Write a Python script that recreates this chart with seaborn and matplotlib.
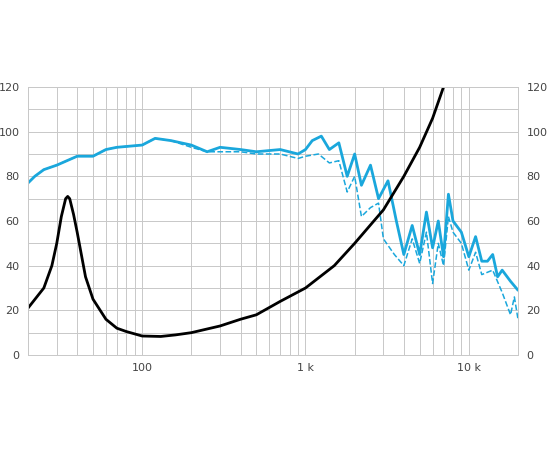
import matplotlib
matplotlib.use("Agg")
import matplotlib.pyplot as plt
import seaborn as sns
import pandas as pd
from matplotlib.ticker import FixedLocator, LogLocator, NullFormatter

imp_f = [20, 25, 28, 30, 32, 34, 35, 36, 38, 40, 45, 50, 60, 70, 80, 100, 130, 160, 200, 300, 400, 500, 700, 1000, 1500, 2000, 3000, 4000, 5000, 6000, 7000]
imp_v = [21, 30, 40, 50, 62, 70, 71, 70, 63, 55, 35, 25, 16, 12, 10.5, 8.5, 8.3, 9, 10, 13, 16, 18, 24, 30, 40, 50, 65, 80, 93, 106, 120]

spl_f = [20, 22, 25, 30, 40, 50, 60, 70, 100, 120, 150, 200, 250, 300, 400, 500, 700, 900, 1000, 1100, 1250, 1400, 1600, 1800, 2000, 2200, 2500, 2800, 3200, 3600, 4000, 4500, 5000, 5500, 6000, 6500, 7000, 7500, 8000, 9000, 10000, 11000, 12000, 13000, 14000, 15000, 16000, 18000, 20000]
spl_v = [77, 80, 83, 85, 89, 89, 92, 93, 94, 97, 96, 94, 91, 93, 92, 91, 92, 90, 92, 96, 98, 92, 95, 80, 90, 76, 85, 70, 78, 60, 45, 58, 45, 64, 48, 60, 44, 72, 60, 55, 44, 53, 42, 42, 45, 35, 38, 33, 29]

off_f = [20, 22, 25, 30, 40, 50, 60, 70, 100, 120, 150, 200, 250, 300, 400, 500, 700, 900, 1000, 1200, 1400, 1600, 1800, 2000, 2200, 2500, 2800, 3000, 3500, 4000, 4500, 5000, 5500, 6000, 6500, 7000, 7500, 8000, 9000, 10000, 11000, 12000, 14000, 16000, 18000, 19000, 20000]
off_v = [77, 80, 83, 85, 89, 89, 92, 93, 94, 97, 96, 93, 91, 91, 91, 90, 90, 88, 89, 90, 86, 87, 73, 80, 62, 66, 68, 52, 45, 40, 52, 41, 55, 32, 50, 40, 62, 55, 50, 38, 46, 36, 38, 28, 18, 26, 16]

sns.set_style("white")
fig = plt.figure(figsize=(5.5, 4.5), dpi=100)
ax = fig.add_axes([28/550, 95/450, 490/550, 268/450])
blue = "#1aa7dc"
sns.lineplot(x=off_f, y=off_v, ax=ax, color=blue, lw=1.1, ls="--")
sns.lineplot(x=spl_f, y=spl_v, ax=ax, color=blue, lw=2)
sns.lineplot(x=imp_f, y=imp_v, ax=ax, color="black", lw=2)
ax.set_xscale("log")
ax.set_xlim(20, 20000)
ax.set_ylim(0, 120)
ax.xaxis.set_major_locator(FixedLocator([100, 1000, 10000]))
ax.set_xticklabels(["100", "1 k", "10 k"])
ax.xaxis.set_minor_locator(LogLocator(base=10, subs=range(2, 10)))
ax.xaxis.set_minor_formatter(NullFormatter())
ax.set_yticks(range(0, 121, 20))
ax.yaxis.set_minor_locator(FixedLocator(range(0, 121, 10)))
ax.grid(which="both", color="#c8c8c8", lw=0.7)
ax.tick_params(which="both", length=0, labelsize=8, colors="#444444", pad=6)
ax.tick_params(axis="y", labelright=True)
for s in ax.spines.values():
    s.set_color("#c8c8c8"); s.set_linewidth(0.7)
fig.savefig("out.png")
